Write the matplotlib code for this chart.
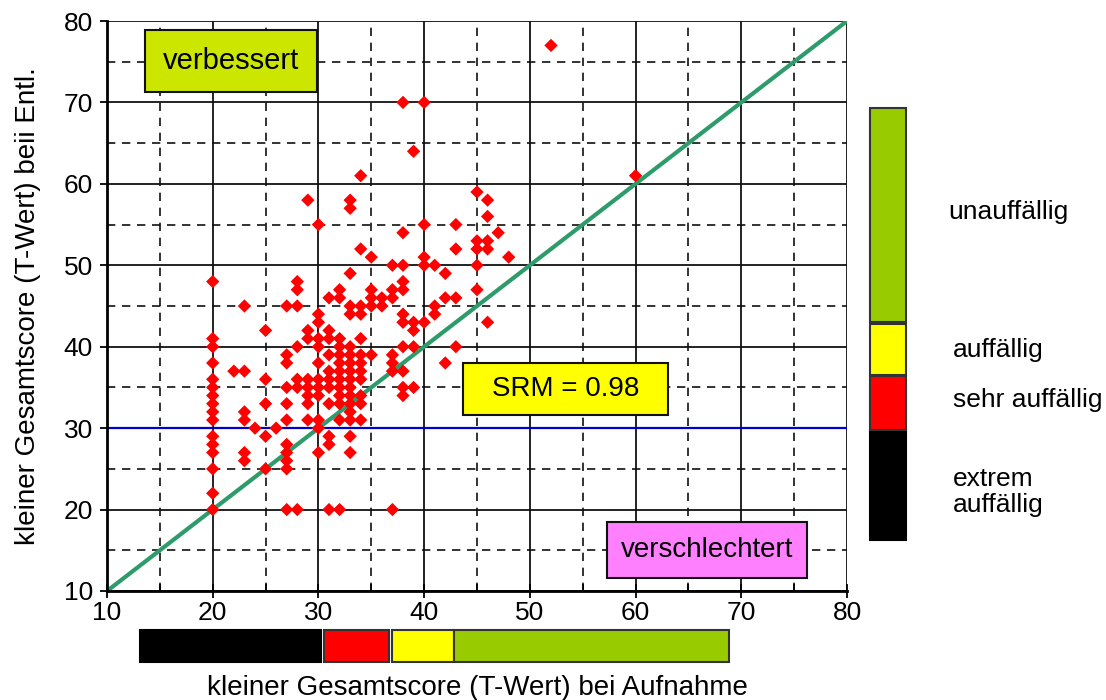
import matplotlib
matplotlib.use('Agg')
import matplotlib.pyplot as plt
from matplotlib.patches import Rectangle
from matplotlib.transforms import blended_transform_factory
from matplotlib.ticker import MultipleLocator

plt.rcParams['font.family'] = ['Liberation Sans', 'DejaVu Sans']

# scores per admission value (x): list of discharge values (y)
POINTS = {
    20: [48, 41, 40, 38, 36, 35, 34, 33, 32, 31, 29, 28, 27, 25, 22, 20],
    22: [37],
    23: [45, 37, 32, 31, 27, 26],
    24: [30],
    25: [42, 36, 33, 29, 25],
    26: [30],
    27: [45, 39, 38, 35, 33, 31, 28, 27, 26, 25, 20],
    28: [48, 47, 45, 40, 36, 35, 20],
    29: [58, 42, 41, 36, 35, 34, 33, 31],
    30: [55, 44, 43, 41, 40, 38, 36, 35, 34, 31, 30, 27],
    31: [46, 42, 41, 39, 37, 36, 35, 33, 29, 28, 20],
    32: [47, 46, 41, 40, 39, 38, 37, 36, 35, 34, 33, 31, 20],
    33: [58, 57, 49, 45, 44, 40, 39, 38, 37, 36, 35, 34, 33, 32, 31, 29, 27],
    34: [61, 52, 45, 44, 41, 39, 38, 37, 36, 34, 33, 31],
    35: [51, 47, 46, 45, 39],
    36: [46, 45],
    37: [50, 47, 46, 39, 38, 37, 20],
    38: [70, 54, 50, 48, 47, 44, 43, 40, 37, 35, 34],
    39: [64, 43, 42, 40, 35],
    40: [70, 55, 51, 50, 43],
    41: [50, 45, 44],
    42: [49, 46, 38],
    43: [55, 52, 46, 40],
    45: [59, 53, 52, 50, 47],
    46: [58, 56, 53, 52, 43],
    47: [54],
    48: [51],
    52: [77],
    60: [61],
}
aufnahme = [x for x, ys in POINTS.items() for _ in ys]
entlassung = [y for ys in POINTS.values() for y in ys]

CUTOFF = 30
SRM = 0.98

band_names = ['extrem\nauffällig', 'sehr auffällig', 'auffällig', 'unauffällig']
band_colors = ['#000000', '#ff0000', '#ffff00', '#99cc00']
x_band_lo = [13.1, 30.5, 37.0, 42.8]
x_band_hi = [30.2, 36.7, 42.8, 68.8]
y_band_lo = [16.3, 29.8, 36.5, 43.0]
y_band_hi = [29.8, 36.4, 42.8, 69.3]

fig = plt.figure(figsize=(11.06, 7.0), dpi=100)
ax = fig.add_axes([107/1106, 109/700, 740/1106, 570/700])

ax.set_xlim(10, 80)
ax.set_ylim(10, 80)
ax.xaxis.set_major_locator(MultipleLocator(10))
ax.xaxis.set_minor_locator(MultipleLocator(5))
ax.yaxis.set_major_locator(MultipleLocator(10))
ax.yaxis.set_minor_locator(MultipleLocator(5))
ax.grid(True, which='major', color='#111111', lw=1.3, ls='-')
ax.grid(True, which='minor', color='#111111', lw=1.2, ls=(0, (5, 4)))
ax.set_axisbelow(True)

for s in ['top', 'right']:
    ax.spines[s].set_visible(False)
for s in ['left', 'bottom']:
    ax.spines[s].set_linewidth(2)

ax.tick_params(axis='x', which='major', direction='inout', length=10, width=1.3, labelsize=19, pad=2)
ax.tick_params(axis='x', which='minor', direction='in', length=5, width=1.2)
ax.tick_params(axis='y', which='major', direction='out', length=5, width=1.3, labelsize=19, pad=5)
ax.tick_params(axis='y', which='minor', length=0)

ax.axhline(CUTOFF, color='#0000cc', lw=1.6, zorder=2)
ax.plot([10, 80], [10, 80], color='#2e9b6a', lw=3, zorder=2, solid_capstyle='butt')
ax.scatter(aufnahme, entlassung, marker='D', s=46, color='#ff0000', edgecolors='none', zorder=3)

ax.set_xlabel('kleiner Gesamtscore (T-Wert) bei Aufnahme', fontsize=20, va='center')
ax.xaxis.set_label_coords(0.5, (591 - 688) / 570)
ax.set_ylabel('kleiner Gesamtscore (T-Wert) beii Entl.', fontsize=20, va='center')
ax.yaxis.set_label_coords((28 - 107) / 740, 0.5)

# labelled boxes in the plot area
boxes = [
    ('verbessert', '#cce600', 0.0514, 0.8754, 0.2324, 0.1088, 21),
    (f'SRM = {SRM:.2f}', '#ffff00', 0.481, 0.3088, 0.277, 0.0912, 20),
    ('verschlechtert', '#ff80ff', 0.6757, 0.0228, 0.2702, 0.0982, 20),
]
for label, fc, bx, by, bw, bh, fs in boxes:
    ax.add_patch(Rectangle((bx, by), bw, bh, transform=ax.transAxes, fc=fc,
                           ec='#111111', lw=1.5, zorder=5, clip_on=False))
    ax.text(bx + bw / 2, by + bh / 2, label, transform=ax.transAxes, ha='center',
            va='center', fontsize=fs, zorder=6)

# category bar below the x axis
tx = blended_transform_factory(ax.transData, ax.transAxes)
for lo, hi, c in zip(x_band_lo, x_band_hi, band_colors):
    ec = c if c == '#000000' else '#333333'
    ax.add_patch(Rectangle((lo, -0.1246), hi - lo, 0.0562, transform=tx, fc=c,
                           ec=ec, lw=1.5, clip_on=False, zorder=5))

# category bar right of the plot
ty = blended_transform_factory(ax.transAxes, ax.transData)
for lo, hi, c in zip(y_band_lo, y_band_hi, band_colors):
    ec = c if c == '#000000' else '#333333'
    ax.add_patch(Rectangle((1.031, lo), 0.0486, hi - lo, transform=ty, fc=c,
                           ec=ec, lw=1.5, clip_on=False, zorder=5))

label_pos = [(953, 492), (953, 400), (953, 350), (948, 212)]
for name, (px, py) in zip(band_names, label_pos):
    fig.text(px / 1106, 1 - py / 700, name, ha='left', va='center', fontsize=19,
             linespacing=1.15)

fig.savefig('out.png', dpi=100)
